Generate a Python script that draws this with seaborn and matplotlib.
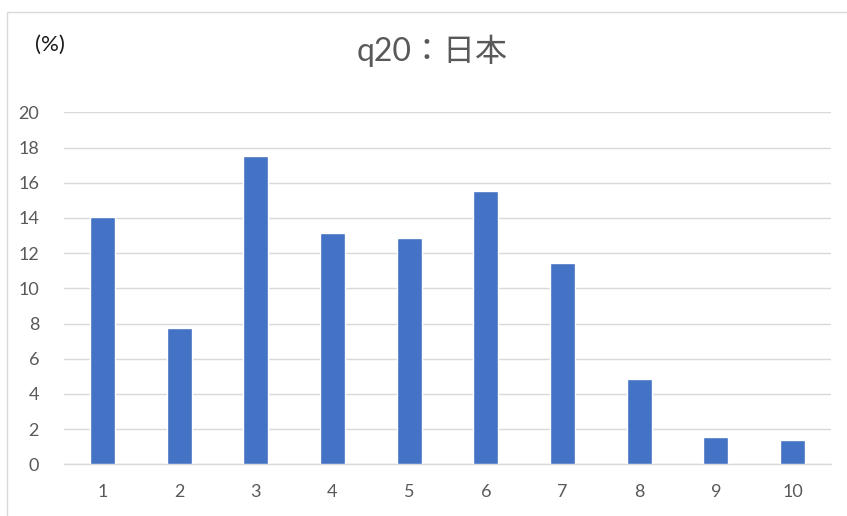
import matplotlib
matplotlib.use("Agg")
import matplotlib.pyplot as plt
from matplotlib.patches import Rectangle
import seaborn as sns
import pandas as pd

categories = ["1", "2", "3", "4", "5", "6", "7", "8", "9", "10"]
values = [14.03, 7.73, 17.5, 13.16, 12.84, 15.51, 11.42, 4.83, 1.57, 1.36]
y_ticks = [0, 2, 4, 6, 8, 10, 12, 14, 16, 18, 20]
title = "q20：日本"
unit_label = "(%)"

sns.set_theme(style="white")
plt.rcParams["font.family"] = ["Lato", "Noto Sans CJK JP", "DejaVu Sans"]

W, H = 847, 516
fig = plt.figure(figsize=(W / 100, H / 100), dpi=100)
ax = fig.add_axes([64 / W, 1 - 464.3 / H, (831 - 64) / W, (464.3 - 112.3) / H])

df = pd.DataFrame({"cat": categories, "val": values})
sns.barplot(data=df, x="cat", y="val", color="#4472C4", width=0.326,
            saturation=1, ax=ax, zorder=3)

ax.set_ylim(0, 20)
ax.set_yticks(y_ticks)
ax.set_xlim(-0.5, len(categories) - 0.5)
ax.set_xlabel("")
ax.set_ylabel("")
ax.yaxis.grid(True, color="#D9D9D9", linewidth=1.0, zorder=0)
ax.set_axisbelow(True)
for side in ["top", "right", "left"]:
    ax.spines[side].set_visible(False)
ax.spines["bottom"].set_color("#D9D9D9")
ax.spines["bottom"].set_linewidth(1.0)
ax.tick_params(axis="both", length=0, labelsize=13, colors="#595959")
ax.tick_params(axis="y", pad=18)
ax.tick_params(axis="x", pad=14)

fig.text(432 / W, 1 - 51 / H, title, ha="center", va="center",
         fontsize=23, color="#595959")
fig.text(50 / W, 1 - 45 / H, unit_label, ha="center", va="center",
         fontsize=16, color="#1a1a1a")

# outer chart-area border
fig.patches.append(Rectangle((7 / W, -0.5), 2, 1.5 - 12 / H,
                             transform=fig.transFigure, fill=False,
                             edgecolor="#D9D9D9", linewidth=1.0))

fig.savefig("out.png", dpi=100)
